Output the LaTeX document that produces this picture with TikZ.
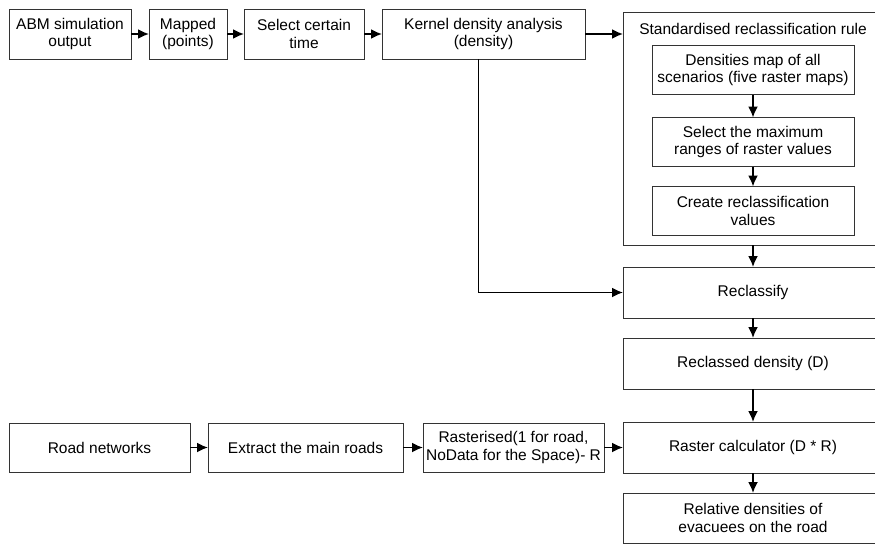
\documentclass[tikz,border=0pt]{standalone}
\usepackage{fontspec}
\setmainfont{Liberation Sans}
\usetikzlibrary{positioning, arrows.meta}
\colorlet{myline}{black!80}
\tikzset{
  >=latex,
  box/.style={draw=myline,line width=1,rectangle,align=center,inner sep=2,outer sep=0,minimum height=49,font=\fontsize{15.5}{17.5}\selectfont},
  box inner/.style={box,minimum width=202},
  box col/.style={box,minimum width=260,minimum height=51},
  connect arrow/.style={-{Latex[length=11,width=10]},line width=1.8,black},
}

\begin{document}
\begin{tikzpicture}[x=1pt, y=-1pt]
  \useasboundingbox (0,0) rectangle (875,546);

  % top row
  \node[box, minimum width=122, minimum height=50] (abm) at (70,34) {ABM simulation\\output};
  \node[box, minimum width=78, minimum height=50, right=18pt of abm] (mapped) {Mapped\\(points)};
  \node[box, minimum width=120, minimum height=50, right=17pt of mapped] (seltime) {Select certain\\time};
  \node[box, minimum width=203, minimum height=50, right=18pt of seltime] (kernel) {Kernel density analysis\\(density)};

  % reclassification rule
  \node[box, minimum width=260, minimum height=233, anchor=north west] (rule) at (623,12) {};
  \node[font=\fontsize{15.5}{17.5}\selectfont] (ruletitle) at (753,29) {Standardised reclassification rule};
  \node[box inner] (densmap) at (753,70) {Densities map of all\\scenarios (five raster maps)};
  \node[box inner, below=23pt of densmap] (maxrange) {Select the maximum\\ranges of raster values};
  \node[box inner, below=20pt of maxrange] (createval) {Create reclassification\\values};

  % right column
  \node[box col, below=22pt of rule] (reclass) {Reclassify};
  \node[box col, below=20pt of reclass] (reclassed) {Reclassed density (D)};
  \node[box col, below=33pt of reclassed] (rastercalc) {Raster calculator (D * R)};
  \node[box col, minimum height=50, below=20pt of rastercalc] (relative) {Relative densities of\\evacuees on the road};

  % bottom row
  \node[box, minimum width=181] (road) at (99.5,447.5) {Road networks};
  \node[box, minimum width=195, right=18pt of road] (mainroad) {Extract the main roads};
  \node[box, minimum width=181, right=20pt of mainroad] (rasterised) {Rasterised(1 for road,\\NoData for the Space)- R};

  % arrows
  \draw[connect arrow] (abm) -- (mapped);
  \draw[connect arrow] (mapped) -- (seltime);
  \draw[connect arrow] (seltime) -- (kernel);
  \draw[connect arrow] (kernel) -- (kernel -| rule.west);
  \draw[connect arrow] ([xshift=-5pt]kernel.south) |- (reclass.west);
  \draw[connect arrow] (densmap) -- (maxrange);
  \draw[connect arrow] (maxrange) -- (createval);
  \draw[connect arrow] (rule) -- (reclass);
  \draw[connect arrow] (reclass) -- (reclassed);
  \draw[connect arrow] (reclassed) -- (rastercalc);
  \draw[connect arrow] (rastercalc) -- (relative);
  \draw[connect arrow] (road) -- (mainroad);
  \draw[connect arrow] (mainroad) -- (rasterised);
  \draw[connect arrow] (rasterised) -- (rasterised -| rastercalc.west);

\end{tikzpicture}
\end{document}
